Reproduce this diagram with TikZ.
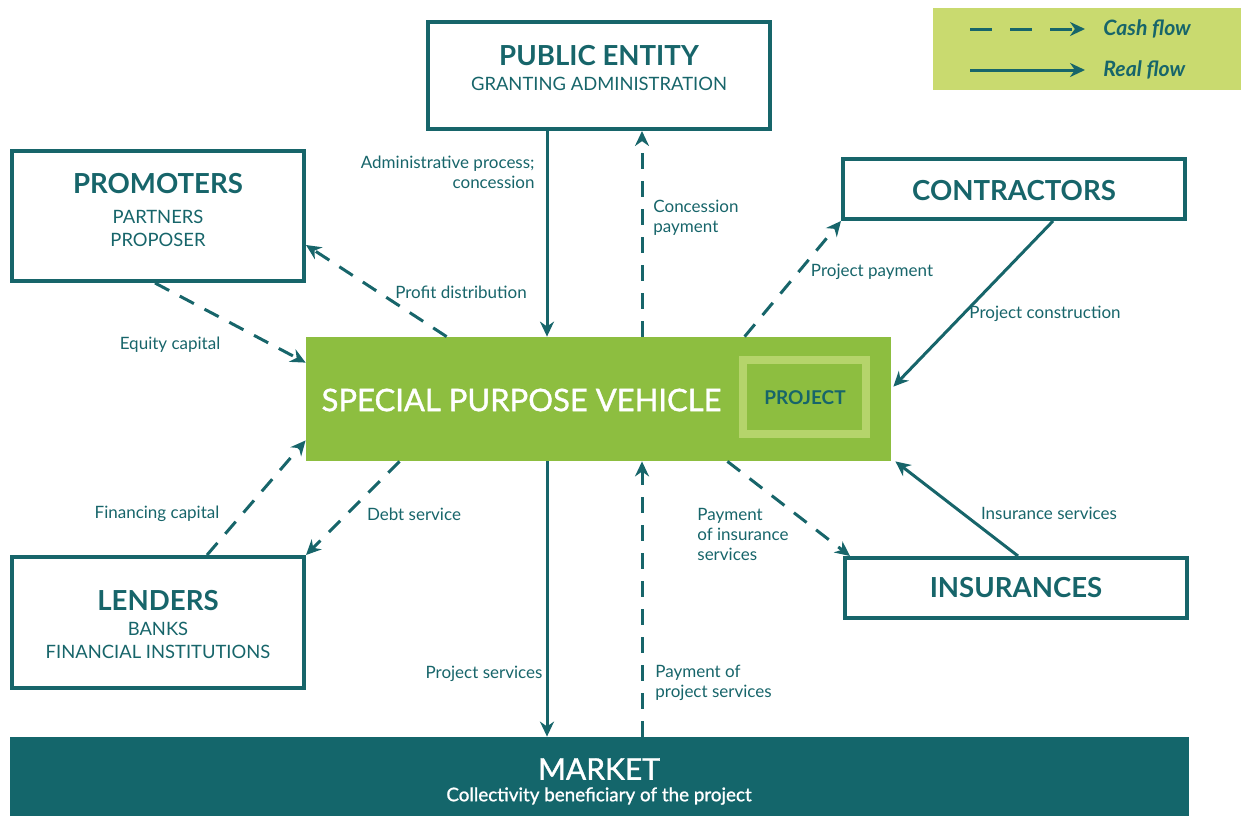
\documentclass[tikz,border=0pt]{standalone}
\usepackage{fontspec}
\setmainfont{Lato}
\newfontfamily\medfont[FakeBold=1.2]{Lato}
\usetikzlibrary{arrows.meta,calc}
\definecolor{ppteal}{HTML}{17656A}
\definecolor{ppgreen}{HTML}{8DBE40}
\definecolor{pplight}{HTML}{B5D46B}
\definecolor{pplegend}{HTML}{C9DA6F}
\definecolor{ppmarket}{HTML}{14666B}
\begin{document}
\begin{tikzpicture}[x=0.5pt,y=-0.5pt,
  party/.style={draw=ppteal, line width=2pt, inner sep=0pt},
  title/.style={font=\bfseries\fontsize{13.8}{16}\selectfont, text=ppteal, inner sep=0pt},
  sub/.style={font=\fontsize{9.2}{11.5}\selectfont, text=ppteal, align=center, inner sep=0pt},
  lbl/.style={font=\fontsize{8.5}{10}\selectfont, text=ppteal, inner sep=0pt},
  real/.style={draw=ppteal, line width=1.5pt, -{Stealth[length=7.5pt,width=7pt]}},
  cash/.style={real, dash pattern=on 8pt off 6pt}]
\useasboundingbox (0,0) rectangle (1241,816);
\node[fill=pplegend, minimum width=154pt, minimum height=41pt, inner sep=0pt] (leg) at (1087,49) {};
\node[party, minimum width=171pt, minimum height=53.5pt] (pe) at (599,75.5) {};
\node[party, minimum width=146pt, minimum height=65pt] (prom) at (158,216) {};
\node[party, minimum width=171pt, minimum height=30pt] (con) at (1014,189) {};
\node[party, minimum width=146pt, minimum height=65.5pt] (len) at (158,622.5) {};
\node[party, minimum width=171pt, minimum height=30pt] (ins) at (1016,588) {};
\node[fill=ppgreen, minimum width=292.5pt, minimum height=62pt, inner sep=0pt] (spv) at (598.5,399) {};
\node[draw=pplight, line width=4pt, minimum width=61.5pt, minimum height=37pt, inner sep=0pt] (proj) at (804.5,397) {};
\node[fill=ppmarket, minimum width=589.5pt, minimum height=39.5pt, inner sep=0pt] (mkt) at (599.5,776.5) {};

\node[title] (pe-t) at (599,56) {PUBLIC ENTITY};
\node[sub] (pe-s) at (599,84) {GRANTING ADMINISTRATION};
\node[title] (prom-t) at (158,184) {PROMOTERS};
\node[sub] (prom-s) at (158,228) {PARTNERS\\PROPOSER};
\node[title] (con-t) at (1014,191) {CONTRACTORS};
\node[title] (len-t) at (158,601) {LENDERS};
\node[sub] (len-s) at (158,640) {BANKS\\FINANCIAL INSTITUTIONS};
\node[title] (ins-t) at (1016,588) {INSURANCES};
\node[font={\medfont\fontsize{15.5}{17}\selectfont}, text=white, inner sep=0pt] (spv-t) at (521.5,400) {SPECIAL PURPOSE VEHICLE};
\node[font=\bfseries\fontsize{9.5}{11}\selectfont, text=ppteal, inner sep=0pt] (proj-t) at (805,398) {PROJECT};
\node[font={\medfont\fontsize{15}{17}\selectfont}, text=white, inner sep=0pt] (mkt-t) at (599,769) {MARKET};
\node[font={\medfont\fontsize{9.4}{11}\selectfont}, text=white, inner sep=0pt] (mkt-s) at (599,796) {Collectivity beneficiary of the project};

\draw[real] ($(pe.south)+(-52,0)$) -- ($(spv.north)+(-51.5,0)$);
\draw[cash] ($(spv.north)+(43.5,0)$) -- ($(pe.south)+(43,0)$);
\draw[cash] ($(spv.north west)+(141,0)$) -- ($(prom.east)+(0,29)$);
\draw[cash] ($(prom.south)+(-3,0)$) -- ($(spv.north west)+(0,26)$);
\draw[cash] ($(len.north)+(49,0)$) -- ($(spv.south west)+(0,-21)$);
\draw[cash] ($(spv.south west)+(94,0)$) -- (len.north east);
\draw[real] ($(spv.south)+(-51.5,0)$) -- ($(mkt.north)+(-52.5,0)$);
\draw[cash] ($(mkt.north)+(42.5,0)$) -- ($(spv.south)+(43.5,0)$);
\draw[cash] ($(spv.north west)+(439,0)$) -- (con.south west);
\draw[real] ($(con.south)+(39,0)$) -- ($(spv.north east)+(2,50)$);
\draw[cash] ($(spv.south east)+(-164,0)$) -- ($(ins.north west)+(7,0)$);
\draw[real] ($(ins.north)+(2,0)$) -- ($(spv.south east)+(4,0)$);

\node[lbl, anchor=east, align=right] (l-adm) at (535,172) {Administrative process;\\concession};
\node[lbl, anchor=west, align=left] (l-conc) at (653,218) {Concession\\payment};
\node[lbl] (l-prof) at (461,292) {Profit distribution};
\node[lbl] (l-eq) at (170,345) {Equity capital};
\node[lbl] (l-ppay) at (872,272) {Project payment};
\node[lbl] (l-pcon) at (1045,314) {Project construction};
\node[lbl] (l-fin) at (157,514) {Financing capital};
\node[lbl] (l-debt) at (414,514) {Debt service};
\node[lbl, anchor=west, align=left] (l-pins) at (697,534) {Payment\\of insurance\\services};
\node[lbl] (l-ins) at (1049,513) {Insurance services};
\node[lbl] (l-psrv) at (484,674) {Project services};
\node[lbl, anchor=west, align=left] (l-ppsrv) at (655,683) {Payment of\\project services};

\coordinate (k1a) at (970,29);
\coordinate (k1b) at (1085,29);
\coordinate (k2a) at (970,70);
\coordinate (k2b) at (1085,70);
\draw[real, dash pattern=on 11pt off 9pt] (k1a) -- (k1b);
\draw[real] (k2a) -- (k2b);
\node[font=\bfseries\itshape\fontsize{10.6}{12}\selectfont, text=ppteal, anchor=west, inner sep=0pt] (k-cash) at (1103,29) {Cash flow};
\node[font=\bfseries\itshape\fontsize{10.6}{12}\selectfont, text=ppteal, anchor=west, inner sep=0pt] (k-real) at (1103,70) {Real flow};
\end{tikzpicture}
\end{document}
